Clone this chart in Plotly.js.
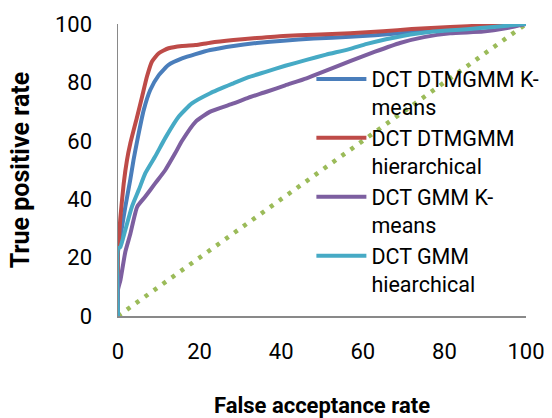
<!DOCTYPE html>
<html>
<head>
<meta charset="utf-8">
<script src="https://cdn.plot.ly/plotly-3.0.1.min.js"></script>
<style>
html,body{margin:0;padding:0;background:#fff;}
#chart{width:552px;height:418px;}
</style>
</head>
<body>
<div id="chart"></div>
<script>
// Series names
const seriesNames = [
  "DCT DTMGMM K-<br>means",
  "DCT DTMGMM<br>hierarchical",
  "DCT GMM K-<br>means",
  "DCT GMM<br>hiearchical"
];
const seriesColors = ["#4A7EBB", "#BE4B48", "#7D5FA0", "#46AAC5"];
const chanceColor = "#9BBB59";

// DCT DTMGMM K-means
const blueX = [0, 0, 0.6, 1.8, 3, 3.8, 4.7, 6.3, 7.9, 10, 12.4, 15.7, 19, 22.6, 28.3, 34, 40.5, 48, 56.9, 69, 81.4, 90, 100];
const blueY = [0, 22, 27.2, 37.4, 46.6, 53.4, 60, 70.5, 77.4, 82.5, 86, 88.2, 89.7, 91.1, 92.5, 93.5, 94.3, 95, 95.6, 96.8, 98.5, 99.3, 100];

// DCT DTMGMM hierarchical
const redX = [0, 0, 0.2, 0.6, 1.4, 2.2, 3, 4.7, 5.9, 7.1, 8.3, 10, 12.4, 15.7, 19, 22.6, 28.3, 34, 40.5, 48, 56.9, 65, 72, 81.4, 90, 100];
const redY = [0, 24, 26, 34, 45.4, 53.4, 59, 68.3, 75.1, 82, 87.1, 90, 91.7, 92.5, 92.8, 93.6, 94.5, 95.2, 95.9, 96.3, 96.8, 97.5, 98.3, 99, 99.5, 100];

// DCT GMM K-means
const purpleX = [0, 0, 0.6, 1.8, 3, 4.7, 6.7, 9.1, 11.6, 14, 15.7, 19, 22.6, 28.3, 32, 36.4, 41, 46.2, 51, 56.9, 63, 69.1, 75, 81.4, 89.5, 95, 100];
const purpleY = [0, 9, 12.3, 22, 28, 37.4, 40.9, 45.4, 50, 55.7, 60, 66.5, 70, 72.8, 74.8, 76.8, 79, 81.4, 84, 87.3, 90.5, 93.5, 95.5, 96.8, 97.4, 98.5, 100];

// DCT GMM hiearchical
const cyanX = [0, 0, 0.6, 1.8, 3.4, 5.1, 6.7, 9.1, 11.6, 14.9, 18.1, 22.6, 28.3, 32, 36.4, 41, 46.2, 51, 56.9, 61, 70, 77.3, 85.5, 92, 100];
const cyanY = [0, 23, 23.7, 29.5, 37.4, 43.2, 48.9, 54.6, 61, 68.3, 72.8, 76.3, 79.7, 81.8, 83.7, 85.7, 87.7, 89.5, 91.5, 93.2, 96, 97.4, 98.2, 99, 100];

// Chance line
const chanceX = [0, 100];
const chanceY = [0, 100];

const tickVals = [0, 20, 40, 60, 80, 100];
const tickText = ["0", "20", "40", "60", "80", "100"];

const lineW = 4;
const traces = [
  {x: chanceX, y: chanceY, mode: "lines", showlegend: false, hoverinfo: "skip",
   line: {color: chanceColor, width: 4.5, dash: "4px,7px"}},
  {x: blueX, y: blueY, name: seriesNames[0], mode: "lines", line: {color: seriesColors[0], width: lineW, shape: "spline", smoothing: 0.5}},
  {x: redX, y: redY, name: seriesNames[1], mode: "lines", line: {color: seriesColors[1], width: lineW, shape: "spline", smoothing: 0.5}},
  {x: purpleX, y: purpleY, name: seriesNames[2], mode: "lines", line: {color: seriesColors[2], width: lineW, shape: "spline", smoothing: 0.5}},
  {x: cyanX, y: cyanY, name: seriesNames[3], mode: "lines", line: {color: seriesColors[3], width: lineW, shape: "spline", smoothing: 0.5}}
];

const tickFont = {family: "Roboto, sans-serif", size: 22, color: "#000"};
const xTitleFont = {family: "Roboto, sans-serif", size: 22, color: "#000", weight: "bold"};
const yTitleFont = {family: "Roboto, sans-serif", size: 25, color: "#000", weight: "bold"};

const layout = {
  width: 552, height: 418,
  margin: {l: 118, r: 26, t: 24, b: 102, autoexpand: false},
  paper_bgcolor: "#fff", plot_bgcolor: "#fff",
  showlegend: true,
  legend: {
    x: 0.474, y: 0.882, xanchor: "left", yanchor: "top",
    bgcolor: "rgba(0,0,0,0)", borderwidth: 0,
    valign: "top", traceorder: "normal",
    font: {family: "Roboto, sans-serif", size: 21.5, color: "#000"},
    itemwidth: 50
  },
  xaxis: {
    range: [0, 100], tickvals: tickVals, ticktext: tickText,
    showgrid: false, zeroline: false, showline: true, linecolor: "#898989", linewidth: 1.5,
    ticks: "", ticklabelstandoff: 15, tickfont: tickFont,
    title: {text: "False acceptance rate", font: xTitleFont, standoff: 45}
  },
  yaxis: {
    range: [0, 100], tickvals: tickVals, ticktext: tickText,
    showgrid: false, zeroline: false, showline: true, linecolor: "#898989", linewidth: 1.5,
    ticks: "", ticklabelstandoff: 20, tickfont: tickFont,
    title: {text: "True positive rate", font: yTitleFont, standoff: 18}
  }
};

Plotly.newPlot("chart", traces, layout, {displayModeBar: false, staticPlot: true});
</script>
</body>
</html>
